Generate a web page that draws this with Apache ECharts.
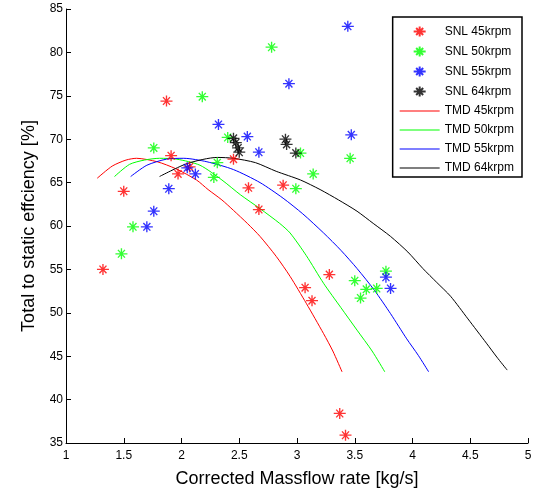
<!DOCTYPE html>
<html><head><meta charset="utf-8">
<script src="https://cdn.jsdelivr.net/npm/echarts@6/dist/echarts.min.js"></script>
<style>html,body{margin:0;padding:0;background:#fff}#c{width:539px;height:491px}</style>
</head><body><div id="c"></div>
<script>
const xTicks = [1, 1.5, 2, 2.5, 3, 3.5, 4, 4.5, 5];
const yTicks = [35, 40, 45, 50, 55, 60, 65, 70, 75, 80, 85];

const snl45 = [[1.32,55],[1.50,64],[1.87,74.4],[1.91,68.1],[1.97,66.0],[2.07,66.8],[2.45,67.7],[2.58,64.4],[2.67,61.9],[2.88,64.7],[3.07,52.9],[3.13,51.4],[3.28,54.4],[3.37,38.4],[3.42,35.9]];
const snl50 = [[1.48,56.8],[1.58,59.9],[1.76,69.0],[2.18,74.9],[2.28,65.6],[2.31,67.3],[2.40,70.2],[2.78,80.6],[2.99,64.3],[3.03,68.4],[3.14,66.0],[3.46,67.8],[3.50,53.7],[3.55,51.7],[3.60,52.7],[3.69,52.8],[3.77,54.8]];
const snl55 = [[1.70,59.9],[1.76,61.7],[1.89,64.3],[2.05,66.7],[2.12,66.0],[2.32,71.7],[2.57,70.3],[2.67,68.5],[2.93,76.4],[3.44,83.0],[3.47,70.5],[3.77,54.1],[3.81,52.8]];
const snl64 = [[2.45,70.1],[2.47,69.6],[2.49,69.0],[2.50,68.5],[2.90,70.0],[2.91,69.4],[2.99,68.4]];

const tmd45 = [[1.27,65.5],[1.40,66.9],[1.52,67.6],[1.61,67.8],[1.79,67.4],[1.95,66.6],[2.13,65.3],[2.23,64.2],[2.35,63.0],[2.45,61.8],[2.57,60.3],[2.68,58.8],[2.82,56.5],[2.94,54.2],[3.08,51.1],[3.23,47.6],[3.31,45.6],[3.39,43.2]];
const tmd50 = [[1.42,65.7],[1.55,67.1],[1.68,67.6],[1.81,67.8],[1.96,67.7],[2.16,67.0],[2.35,65.3],[2.51,63.6],[2.68,62.0],[2.85,60.3],[2.94,59.2],[3.08,56.6],[3.23,53.4],[3.38,50.6],[3.52,48.0],[3.65,45.6],[3.76,43.2]];
const tmd55 = [[1.56,65.7],[1.70,67.0],[1.87,67.7],[2.02,67.8],[2.22,67.4],[2.45,66.5],[2.68,65.0],[2.88,63.2],[3.05,61.4],[3.23,59.2],[3.38,57.2],[3.52,55.1],[3.67,52.6],[3.81,49.9],[3.95,47.0],[4.05,45.1],[4.14,43.2]];
const tmd64 = [[1.81,65.7],[2.05,67.2],[2.31,67.9],[2.45,67.8],[2.64,67.3],[2.82,66.3],[3.03,65.3],[3.20,64.2],[3.36,63.0],[3.52,61.7],[3.66,60.3],[3.81,58.8],[3.96,57.0],[4.09,55.1],[4.21,53.5],[4.33,51.9],[4.48,49.3],[4.64,46.5],[4.73,44.9],[4.82,43.4]];

const star = 'path://M0,-10L0,10M-12,0L12,0M-7,-7L7,7M-7,7L7,-7';
const lineIcon = 'path://M0,0H40V1H0Z';
const F = 'Liberation Sans, Arial, sans-serif';

function scat(name, data, c) {
  return {name, type:'scatter', data, symbol: star, symbolSize:[12,11],
    itemStyle:{color:'none', borderColor:c, borderWidth:1.3}, z:3};
}
function line(name, data, c) {
  return {name, type:'line', data, showSymbol:false, symbol:'none',
    smooth:0.25,
    lineStyle:{color:c, width:1}, itemStyle:{color:c}, z:2};
}

const chart = echarts.init(document.getElementById('c'), null, {renderer:'canvas'});
chart.setOption({
  animation:false,
  backgroundColor:'#fff',
  grid:{left:66, right:11, top:9, bottom:48, containLabel:false, outerBoundsMode:'none'},
  xAxis:{type:'value', min:1, max:5, interval:0.5,
    name:'Corrected Massflow rate [kg/s]', nameLocation:'middle', nameGap:27,
    nameTextStyle:{fontFamily:F, fontSize:18, color:'#000'},
    axisLine:{lineStyle:{color:'#000', width:1}},
    axisTick:{inside:true, length:5, lineStyle:{color:'#000'}},
    axisLabel:{fontFamily:F, fontSize:12, color:'#000', margin:7,
      formatter: v => xTicks.includes(v) ? String(v) : ''},
    splitLine:{show:false}},
  yAxis:{type:'value', min:35, max:85, interval:5,
    name:'Total to static effciency [%]', nameLocation:'middle', nameGap:28,
    nameTextStyle:{fontFamily:F, fontSize:18, color:'#000'},
    axisLine:{show:true, lineStyle:{color:'#000', width:1}},
    axisTick:{show:true, inside:true, length:5, lineStyle:{color:'#000'}},
    axisLabel:{fontFamily:F, fontSize:12, color:'#000', margin:3,
      formatter: v => yTicks.includes(v) ? String(v) : ''},
    splitLine:{show:false}},
  legend:{show:true, orient:'vertical', right:17, top:17,
    itemWidth:40, itemHeight:10, itemGap:5, padding:[7,8,2,7],
    symbolKeepAspect:true,
    borderColor:'#000', borderWidth:1.5, backgroundColor:'#fff',
    textStyle:{fontFamily:F, fontSize:12, color:'#000', lineHeight:14},
    data:['SNL 45krpm','SNL 50krpm','SNL 55krpm','SNL 64krpm',
      {name:'TMD 45krpm', icon:lineIcon},
      {name:'TMD 50krpm', icon:lineIcon},
      {name:'TMD 55krpm', icon:lineIcon},
      {name:'TMD 64krpm', icon:lineIcon}]},
  series:[
    scat('SNL 45krpm', snl45, '#ff0000'),
    scat('SNL 50krpm', snl50, '#00ff00'),
    scat('SNL 55krpm', snl55, '#0000ff'),
    scat('SNL 64krpm', snl64, '#000000'),
    line('TMD 45krpm', tmd45, '#ff0000'),
    line('TMD 50krpm', tmd50, '#00ff00'),
    line('TMD 55krpm', tmd55, '#0000ff'),
    line('TMD 64krpm', tmd64, '#000000')
  ]
});
</script></body></html>
